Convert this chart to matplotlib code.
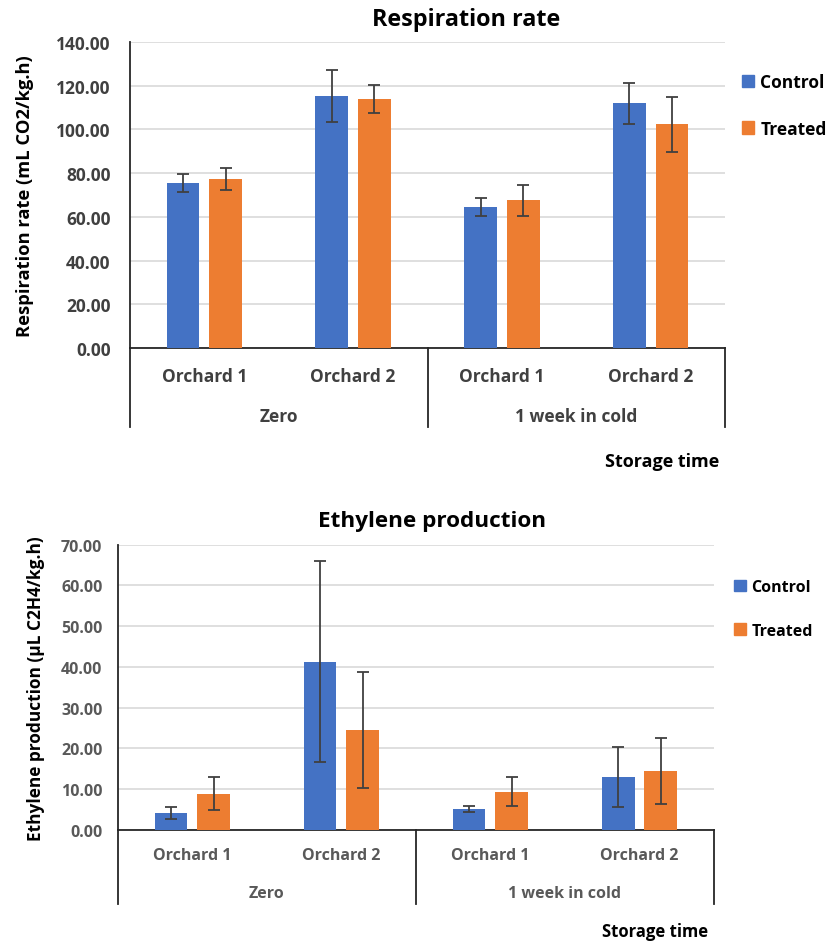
import numpy as np
import matplotlib
matplotlib.use("Agg")
import matplotlib.pyplot as plt
from matplotlib.lines import Line2D
from matplotlib.patches import Patch

COL_CONTROL = "#4472C4"
COL_TREATED = "#ED7D31"
COL_ERR = "#404040"
COL_GRID = "#D9D9D9"

plt.rcParams["font.family"] = ["Open Sans", "DejaVu Sans"]

orchards = ["Orchard 1", "Orchard 2", "Orchard 1", "Orchard 2"]
storage = ["Zero", "1 week in cold"]
series = ["Control", "Treated"]

# respiration rate (mL CO2/kg.h)
resp_control = [75.5, 115.4, 64.6, 112.0]
resp_control_err = [4.2, 12.0, 4.0, 9.3]
resp_treated = [77.5, 114.0, 67.5, 102.4]
resp_treated_err = [5.0, 6.5, 7.0, 12.5]

# ethylene production (uL C2H4/kg.h)
eth_control = [4.1, 41.3, 5.1, 13.0]
eth_control_err = [1.5, 24.7, 0.8, 7.4]
eth_treated = [8.9, 24.5, 9.4, 14.5]
eth_treated_err = [4.0, 14.3, 3.5, 8.0]

W, H, DPI = 826, 945, 100
fig = plt.figure(figsize=(W / DPI, H / DPI), dpi=DPI)


def draw_panel(box, control, control_err, treated, treated_err, ymax, ystep,
               ylabel, title, fs, txtcol, ylab_x, ylab_fs, tick_pad, lab_px,
               leg_xy, leg_sp, title_xy, title_fs, st_xy):
    left, top, right, bottom = box
    ax = fig.add_axes([left / W, 1 - bottom / H, (right - left) / W, (bottom - top) / H])
    hpx = bottom - top
    x = np.arange(len(orchards))
    bw, off = 0.22, 0.143
    ax.bar(x - off, control, bw, color=COL_CONTROL, zorder=3)
    ax.bar(x + off, treated, bw, color=COL_TREATED, zorder=3)
    ek = dict(fmt="none", ecolor=COL_ERR, elinewidth=1.3, capsize=4, capthick=1.3, zorder=4)
    ax.errorbar(x - off, control, yerr=control_err, **ek)
    ax.errorbar(x + off, treated, yerr=treated_err, **ek)

    ax.set_xlim(-0.5, len(orchards) - 0.5)
    ax.set_ylim(0, ymax)
    ax.set_yticks(np.arange(0, ymax + 0.01, ystep))
    ax.yaxis.set_major_formatter(matplotlib.ticker.FormatStrFormatter("%.2f"))
    ax.tick_params(axis="y", length=0, labelsize=fs, labelcolor=txtcol, pad=tick_pad)
    for t in ax.get_yticklabels():
        t.set_fontweight("bold")
    ax.set_xticks([])
    ax.grid(axis="y", color=COL_GRID, linewidth=1.2, zorder=0)
    for s in ["top", "right"]:
        ax.spines[s].set_visible(False)
    for s in ["left", "bottom"]:
        ax.spines[s].set_color("#262626")
        ax.spines[s].set_linewidth(1.3)

    ax.set_ylabel(ylabel, fontsize=ylab_fs, fontweight="bold", color="black")
    ax.yaxis.set_label_coords(ylab_x, 0.5)

    # two-level category axis below the plot
    trans = matplotlib.transforms.blended_transform_factory(ax.transData, ax.transAxes)
    y_orch = -lab_px[0] / hpx
    y_store = -lab_px[1] / hpx
    y_end = -lab_px[2] / hpx
    for i, name in enumerate(orchards):
        ax.text(i, y_orch, name, transform=trans, ha="center", va="center",
                fontsize=fs, fontweight="bold", color=txtcol)
    for j, name in enumerate(storage):
        ax.text(2 * j + 0.5, y_store, name, transform=trans, ha="center", va="center",
                fontsize=fs, fontweight="bold", color=txtcol)
    for xv in [-0.5, 1.5, 3.5]:
        ax.add_line(Line2D([xv, xv], [0, y_end], transform=trans, color="#262626",
                           linewidth=1.3, clip_on=False))

    fig.text(title_xy[0] / W, 1 - title_xy[1] / H, title, ha="center", va="center",
             fontsize=title_fs, fontweight="bold")
    fig.text(st_xy[0] / W, 1 - st_xy[1] / H, "Storage time", ha="right", va="center",
             fontsize=fs + 0.5, fontweight="bold")

    handles = [Patch(color=COL_CONTROL), Patch(color=COL_TREATED)]
    leg = fig.legend(handles, series, loc="upper left",
                     bbox_to_anchor=(leg_xy[0] / W, 1 - leg_xy[1] / H),
                     frameon=False, fontsize=fs, handlelength=0.7, handleheight=0.7,
                     handletextpad=0.35, labelspacing=leg_sp, borderaxespad=0)
    for t in leg.get_texts():
        t.set_fontweight("bold")
    return ax


draw_panel((130, 43, 725, 349), resp_control, resp_control_err, resp_treated, resp_treated_err,
           140, 20, "Respiration rate (mL CO2/kg.h)", "Respiration rate", 12.5, "#404040",
           -0.162, 13.2, 14, (28, 68, 79), (735, 67), 1.65, (466, 20), 16.8, (719, 462))

draw_panel((117.7, 545.7, 714, 831), eth_control, eth_control_err, eth_treated, eth_treated_err,
           70, 10, "Ethylene production (µL C2H4/kg.h)", "Ethylene production", 11.5, "#595959",
           -0.122, 12.4, 11, (25, 63, 74), (728, 574), 1.7, (432, 521), 16.2, (708, 932))

fig.savefig("out.png", dpi=DPI)
